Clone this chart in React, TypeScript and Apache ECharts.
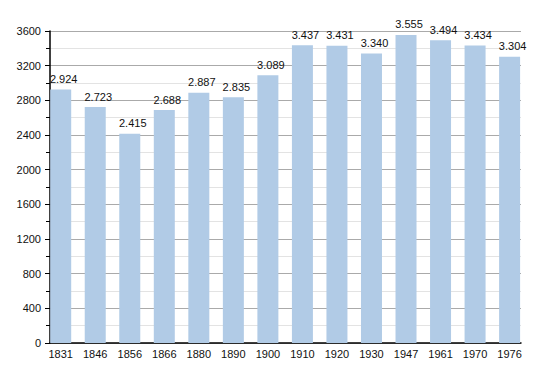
import React, { useEffect, useRef } from "react";
import * as echarts from "echarts";

const years = ["1831", "1846", "1856", "1866", "1880", "1890", "1900", "1910", "1920", "1930", "1947", "1961", "1970", "1976"];
const population = [2924, 2723, 2415, 2688, 2887, 2835, 3089, 3437, 3431, 3340, 3555, 3494, 3434, 3304];
const yTicks = [0, 400, 800, 1200, 1600, 2000, 2400, 2800, 3200, 3600];

const fmt = (v: number) => {
  const s = String(v);
  return s.length > 3 ? s.slice(0, s.length - 3) + "." + s.slice(s.length - 3) : s;
};

const FONT = "Liberation Sans, Arial, sans-serif";

export default function App() {
  const ref = useRef<HTMLDivElement>(null);
  useEffect(() => {
    if (!ref.current) return;
    const chart = echarts.init(ref.current, undefined, { renderer: "svg" });
    const idx = years.map((_, i) => i);
    chart.setOption({
      animation: false,
      backgroundColor: "#ffffff",
      grid: { left: 50, right: 29, top: 31, bottom: 30, containLabel: false },
      xAxis: {
        type: "value",
        min: -0.31,
        max: 13.33,
        axisLine: { show: true, onZero: false, lineStyle: { color: "#000", width: 1.5 } },
        axisTick: { show: false },
        splitLine: { show: false },
        axisLabel: {
          color: "#111",
          fontSize: 11,
          fontFamily: FONT,
          margin: 5,
          customValues: idx,
          showMinLabel: true,
          showMaxLabel: true,
          formatter: (v: number) => years[Math.round(v)] ?? "",
        },
      },
      yAxis: {
        type: "value",
        min: yTicks[0],
        max: yTicks[yTicks.length - 1],
        interval: yTicks[1] - yTicks[0],
        axisLine: { show: true, onZero: false, lineStyle: { color: "#000", width: 1.5 } },
        axisTick: { show: true, length: 5, lineStyle: { color: "#000" } },
        minorTick: { show: true, splitNumber: 2, length: 4, lineStyle: { color: "#000" } },
        splitLine: { show: true, lineStyle: { color: "#aaaaaa", width: 1 } },
        minorSplitLine: { show: true, lineStyle: { color: "#e3e3e3", width: 1 } },
        axisLabel: { color: "#111", fontSize: 11, fontFamily: FONT, margin: 9, formatter: (v: number) => String(v) },
      },
      series: [
        {
          type: "bar",
          data: population.map((v, i) => [i, v]),
          barWidth: 21,
          itemStyle: { color: "#b1cbe6" },
          label: {
            show: true,
            position: "top",
            distance: 5,
            offset: [3, 0],
            color: "#111",
            fontSize: 11,
            fontFamily: FONT,
            formatter: (p: any) => fmt(p.value[1]),
          },
        },
      ],
    });
    return () => chart.dispose();
  }, []);
  return <div ref={ref} style={{ width: 550, height: 373, position: "absolute", left: 0, top: 0 }} />;
}
